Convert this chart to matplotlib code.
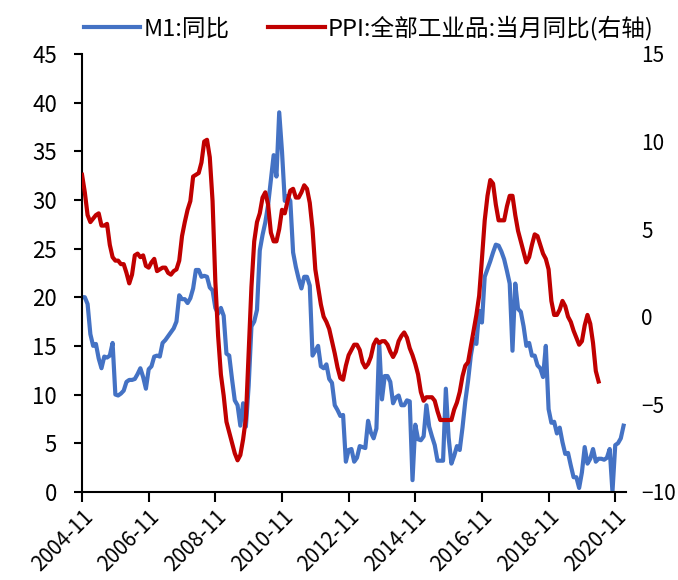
import matplotlib
matplotlib.use('Agg')
import matplotlib.pyplot as plt
import numpy as np

plt.rcParams['font.family'] = ['Noto Sans CJK SC', 'DejaVu Sans']

# M1 同比 (%)，左轴，按月
m1 = [
    20.0, 20.0, 19.3, 16.2, 15.0, 15.2, 13.7, 12.7, 13.9, 13.8, 14.0,
    15.3, 10.0, 9.9, 10.1, 10.4, 11.3, 11.5, 11.5, 11.6, 12.1, 12.7, 11.8,
    10.6, 12.6, 12.9, 13.9, 14.0, 13.9, 15.3, 15.6, 16.0, 16.4, 16.8, 17.5,
    20.2, 19.8, 19.8, 19.4, 19.9, 20.9, 22.8, 22.8, 22.1, 22.2, 22.1, 21.0,
    20.7, 18.9, 18.3, 18.9, 18.1, 14.2, 14.0, 11.6, 9.4, 8.9, 6.8, 9.1,
    6.7, 10.9, 17.0, 17.5, 18.7, 24.8, 26.4, 27.7, 29.5, 32.0, 34.6, 32.4,
    39.0, 35.0, 29.9, 30.4, 29.9, 24.6, 23.1, 21.9, 20.9, 22.1, 22.1, 21.2,
    14.0, 14.5, 15.0, 12.9, 12.7, 13.1, 11.6, 11.2, 8.9, 8.4, 7.8, 7.9,
    3.1, 4.3, 4.4, 3.1, 3.5, 4.7, 4.6, 4.5, 7.3, 6.1, 5.5, 6.5,
    15.3, 9.5, 11.9, 11.9, 11.3, 9.1, 9.7, 9.9, 8.9, 8.9, 9.4, 9.3,
    1.2, 6.9, 5.4, 5.3, 5.7, 8.9, 6.7, 5.7, 4.8, 3.2, 3.2, 3.2,
    10.6, 5.6, 2.9, 3.7, 4.7, 4.3, 6.6, 9.3, 11.4, 14.0, 15.7, 15.2,
    18.6, 17.4, 22.1, 22.9, 23.7, 24.6, 25.4, 25.3, 24.7, 23.9, 22.7, 21.4,
    14.5, 21.4, 18.8, 18.5, 17.0, 15.0, 15.3, 14.0, 14.0, 13.0, 12.7, 11.8,
    15.0, 8.5, 7.1, 7.2, 6.0, 6.6, 5.1, 3.9, 4.0, 2.7, 1.5, 1.5,
    0.4, 2.0, 4.6, 2.9, 3.4, 4.4, 3.1, 3.4, 3.4, 3.3, 3.5, 4.4,
    0.0, 4.8, 5.0, 5.5, 6.8,
]

# PPI:全部工业品:当月同比 (%)，右轴，按月
ppi = [
    8.1, 7.1,
    5.8, 5.4, 5.6, 5.8, 5.9, 5.2, 5.2, 5.3, 4.1, 3.4, 3.2, 3.2,
    3.0, 3.0, 2.5, 1.9, 2.4, 3.5, 3.6, 3.4, 3.5, 2.9, 2.8, 3.1,
    3.3, 2.6, 2.7, 2.8, 2.8, 2.5, 2.4, 2.6, 2.7, 3.2, 4.6, 5.4,
    6.1, 6.6, 8.0, 8.1, 8.2, 8.8, 10.0, 10.1, 9.1, 6.6, 2.0, -1.1,
    -3.3, -4.5, -6.0, -6.6, -7.2, -7.8, -8.2, -7.9, -7.0, -5.8, -2.1, 1.7,
    4.3, 5.4, 5.9, 6.8, 7.1, 6.4, 4.8, 4.3, 4.3, 5.0, 6.1, 5.9,
    6.6, 7.2, 7.3, 6.8, 6.8, 7.1, 7.5, 7.3, 6.5, 5.0, 2.7, 1.7,
    0.7, 0.0, -0.3, -0.7, -1.4, -2.1, -2.9, -3.5, -3.6, -2.8, -2.2, -1.9,
    -1.6, -1.6, -1.9, -2.6, -2.9, -2.7, -2.3, -1.6, -1.3, -1.5, -1.4, -1.4,
    -1.6, -2.0, -2.3, -2.0, -1.4, -1.1, -0.9, -1.2, -1.8, -2.2, -2.7, -3.3,
    -4.3, -4.8, -4.6, -4.6, -4.6, -4.8, -5.4, -5.9, -5.9, -5.9, -5.9, -5.9,
    -5.3, -4.9, -4.3, -3.4, -2.8, -2.6, -1.7, -0.8, 0.1, 1.2, 3.3, 5.5,
    6.9, 7.8, 7.6, 6.4, 5.5, 5.5, 5.5, 6.3, 6.9, 6.9, 5.8, 4.9,
    4.3, 3.7, 3.1, 3.4, 4.1, 4.7, 4.6, 4.1, 3.6, 3.3, 2.7, 0.9,
    0.1, 0.1, 0.4, 0.9, 0.6, 0.0, -0.3, -0.8, -1.2, -1.6, -1.4, -0.5,
    0.1, -0.4, -1.5, -3.1, -3.7,
]

tick_labels = ['2004-11', '2006-11', '2008-11', '2010-11', '2012-11',
               '2014-11', '2016-11', '2018-11', '2020-11']

blue = '#4472C4'
red = '#C00000'

fig = plt.figure(figsize=(6.78, 5.80), dpi=100)
ax = fig.add_axes([0.121, 0.152, 0.802, 0.755])
ax2 = ax.twinx()

l1, = ax.plot(np.arange(len(m1)), m1, color=blue, lw=3, solid_joinstyle='round')
l2, = ax2.plot(np.arange(len(ppi)), ppi, color=red, lw=3, solid_joinstyle='round')

ax.set_xlim(0, 195.8)
ax.set_ylim(0, 45)
ax.set_yticks(range(0, 46, 5))
ax2.set_ylim(-10, 15)
ax2.set_yticks(range(-10, 16, 5))

ax.set_xticks(np.arange(len(tick_labels)) * 24)
ax.set_xticklabels(tick_labels, rotation=45, ha='right', rotation_mode='anchor')

for s in ['top', 'right']:
    ax.spines[s].set_visible(False)
for s in ax2.spines.values():
    s.set_visible(False)
ax.spines['left'].set_linewidth(1.5)
ax.spines['bottom'].set_linewidth(1.5)

ax.tick_params(axis='x', length=7, width=1.5, labelsize=15, pad=3)
ax.tick_params(axis='y', length=6, width=1.5, labelsize=16, pad=12)
ax2.tick_params(axis='y', length=0, labelsize=15, pad=11)

fig.legend([l1, l2], ['M1:同比', 'PPI:全部工业品:当月同比(右轴)'],
           loc='center', bbox_to_anchor=(0.544, 0.952), ncol=2, frameon=False,
           fontsize=17, handlelength=2.4, columnspacing=1.6, handletextpad=0.15)

fig.savefig('out.png', dpi=100)
